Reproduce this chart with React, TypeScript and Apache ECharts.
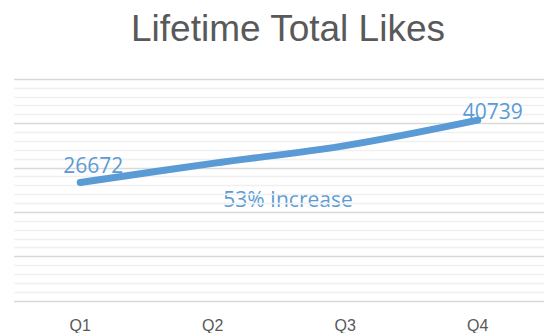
import React, { useEffect, useRef } from "react";
import * as echarts from "echarts";

// Quarterly lifetime likes
const quarters = ["Q1", "Q2", "Q3", "Q4"];
const likes = [26672, 31000, 35000, 40739];
const labelledQuarters = [0, 3];
const titleText = "Lifetime Total Likes";
const noteText = "53% Increase";

const BLUE = "#5b9bd5";
const GREY_TEXT = "#595959";

export default function App() {
  const ref = useRef<HTMLDivElement>(null);

  useEffect(() => {
    if (!ref.current) return;
    const chart = echarts.init(ref.current, null, { renderer: "svg" });

    const labelOffsets: Record<number, [number, number]> = {
      0: [13, -2],
      3: [15, 7],
    };

    const seriesData = likes.map((v, i) => {
      if (labelledQuarters.includes(i)) {
        return {
          value: v,
          label: {
            show: true,
            position: "top",
            offset: labelOffsets[i],
          },
        };
      }
      return { value: v };
    });

    chart.setOption({
      animation: false,
      backgroundColor: "#ffffff",
      grid: { left: 14, right: -8, top: 79, bottom: 32 },
      xAxis: {
        type: "category",
        data: quarters,
        boundaryGap: true,
        axisLine: { show: false },
        axisTick: { show: false },
        axisLabel: {
          color: GREY_TEXT,
          fontFamily: "Liberation Sans",
          fontSize: 16,
          margin: 16,
        },
      },
      yAxis: {
        type: "value",
        min: 0,
        max: 50000,
        interval: 10000,
        axisLine: { show: false },
        axisTick: { show: false },
        axisLabel: { show: false },
        splitLine: { show: true, lineStyle: { color: "#d9d9d9", width: 1.3 } },
        minorTick: { show: false, splitNumber: 5 },
        minorSplitLine: { show: true, lineStyle: { color: "#f0f0f0", width: 1.3 } },
      },
      series: [
        {
          type: "line",
          data: seriesData,
          smooth: 0.35,
          showSymbol: true,
          symbol: "circle",
          symbolSize: 1,
          itemStyle: { color: "rgba(0,0,0,0)", borderWidth: 0 },
          lineStyle: { color: BLUE, width: 7, cap: "round", join: "round" },
          label: {
            show: false,
            color: BLUE,
            fontFamily: "Open Sans",
            fontSize: 21,
            distance: 5,
            formatter: "{c}",
          },
        },
      ],
      graphic: [
        {
          type: "text",
          x: 288,
          y: 28,
          style: {
            text: titleText,
            fill: GREY_TEXT,
            font: "37px 'Liberation Sans'",
            align: "center",
            verticalAlign: "middle",
          },
        },
        {
          type: "text",
          x: 288,
          y: 199,
          style: {
            text: noteText,
            fill: BLUE,
            font: "21px 'Open Sans'",
            align: "center",
            verticalAlign: "middle",
          },
        },
      ],
    });

    return () => chart.dispose();
  }, []);

  return (
    <div
      ref={ref}
      style={{ position: "fixed", left: 0, top: 0, width: 544, height: 333 }}
    />
  );
}
